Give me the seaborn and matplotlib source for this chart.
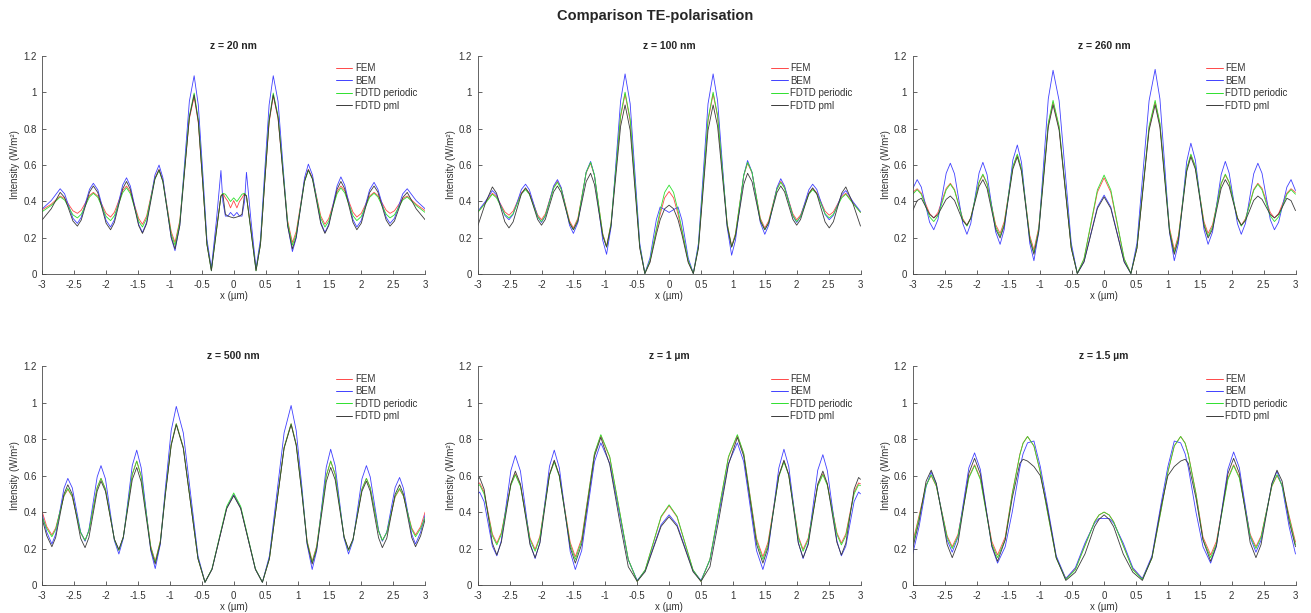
import numpy as np
import pandas as pd
import matplotlib
matplotlib.use("Agg")
import matplotlib.pyplot as plt
import seaborn as sns
from matplotlib.ticker import FuncFormatter, MultipleLocator

# ---------------- data ----------------
methods = ["FEM", "BEM", "FDTD periodic", "FDTD pml"]
colors = ["#ff4848", "#4040ff", "#2ee02e", "#3a3a3a"]
titles = ["z = 20 nm", "z = 100 nm", "z = 260 nm", "z = 500 nm", "z = 1 µm", "z = 1.5 µm"]

# ---- z = 20 nm ----
z20_x = [-3.0, -2.86, -2.72, -2.65, -2.52, -2.45, -2.39, -2.26, -2.2, -2.13, -2.0, -1.93, -1.87, -1.74, -1.68, -1.62, -1.49, -1.43, -1.365, -1.235,
         -1.17, -1.11, -0.98, -0.92, -0.845, -0.77, -0.695, -0.62, -0.555, -0.485, -0.42, -0.35, -0.27, -0.2, -0.17, -0.13, -0.09, -0.05,
         0.0,
         0.05, 0.09, 0.13, 0.17, 0.2, 0.27, 0.35, 0.42, 0.485, 0.555, 0.62, 0.695, 0.77, 0.845, 0.92, 0.98, 1.11, 1.17, 1.235, 1.365,
         1.43, 1.49, 1.62, 1.68, 1.74, 1.87, 1.93, 2.0, 2.13, 2.2, 2.26, 2.39, 2.45, 2.52, 2.65, 2.72, 2.86, 3.0]
z20_fem = [.355, .385, .43, .416, .349, .335, .352, .433, .45, .43, .335, .315, .341, .46, .485, .454, .307, .275, .32, .53,
           .575, .515, .235, .175, .295, .575, .855, .975, .833, .50, .168, .025, .25, .43, .445, .42, .40, .365,
           .405,
           .365, .40, .42, .445, .43, .25, .025, .168, .50, .833, .98, .855, .575, .295, .175, .235, .515, .575, .53, .32,
           .275, .307, .454, .485, .46, .341, .315, .335, .43, .45, .433, .352, .335, .349, .416, .43, .385, .35]
z20_bem = [.36, .405, .47, .442, .308, .28, .313, .467, .50, .464, .296, .26, .30, .49, .53, .485, .275, .23, .286, .545,
           .60, .53, .20, .13, .27, .61, .95, 1.09, .93, .56, .193, .035, .30, .57, .40, .32, .32, .34,
           .32,
           .34, .32, .32, .40, .56, .30, .035, .193, .56, .93, 1.09, .95, .61, .27, .125, .20, .53, .605, .545, .286,
           .23, .275, .485, .535, .49, .30, .26, .296, .464, .505, .467, .313, .28, .308, .442, .47, .405, .36]
z20_per = [.345, .378, .425, .408, .327, .31, .33, .425, .445, .423, .318, .295, .322, .448, .475, .443, .292, .26, .307, .524,
           .57, .509, .221, .16, .285, .578, .87, .995, .849, .508, .166, .02, .24, .43, .445, .44, .42, .40,
           .42,
           .40, .42, .44, .445, .43, .24, .02, .166, .508, .849, .995, .87, .578, .285, .16, .221, .509, .57, .524, .307,
           .26, .292, .443, .475, .448, .322, .295, .318, .423, .445, .425, .33, .31, .327, .408, .425, .378, .34]
z20_pml = [.30, .36, .45, .422, .293, .265, .298, .452, .485, .449, .281, .245, .285, .47, .51, .467, .268, .225, .278, .523,
           .575, .51, .205, .14, .267, .563, .862, .985, .84, .50, .165, .02, .24, .43, .44, .33, .32, .315,
           .31,
           .315, .32, .33, .44, .43, .24, .02, .165, .50, .84, .985, .862, .563, .267, .14, .205, .51, .575, .523, .278,
           .225, .268, .467, .51, .47, .285, .245, .281, .449, .485, .452, .298, .265, .293, .422, .45, .36, .30]

# ---- z = 100 nm ----
z100_x = [-3.0, -2.88, -2.77, -2.705, -2.575, -2.51, -2.445, -2.315, -2.25, -2.19, -2.06, -2.0, -1.94, -1.81, -1.75, -1.69, -1.56, -1.5,
          -1.43, -1.30, -1.23, -1.17, -1.04, -0.98, -0.91, -0.835, -0.76, -0.69, -0.61, -0.535, -0.46, -0.38, -0.3, -0.2, -0.14, -0.07,
          0.0,
          0.07, 0.14, 0.2, 0.3, 0.38, 0.46, 0.535, 0.61, 0.69, 0.76, 0.835, 0.91, 0.98, 1.04, 1.17, 1.23, 1.30, 1.43,
          1.5, 1.56, 1.69, 1.75, 1.81, 1.94, 2.0, 2.06, 2.19, 2.25, 2.315, 2.445, 2.51, 2.575, 2.705, 2.77, 2.88, 3.0]
z100_fem = [.34, .395, .445, .427, .343, .325, .347, .448, .47, .445, .326, .30, .332, .479, .51, .472, .293, .255,
            .308, .557, .61, .542, .223, .155, .28, .573, .865, .99, .842, .498, .153, .005, .07, .24, .33, .42,
            .455,
            .42, .33, .24, .07, .005, .153, .498, .842, .99, .865, .573, .28, .155, .223, .542, .61, .557, .308,
            .255, .293, .472, .51, .479, .332, .30, .326, .445, .47, .448, .347, .325, .343, .427, .445, .395, .34]
z100_bem = [.345, .40, .46, .436, .324, .30, .329, .466, .495, .464, .317, .285, .32, .485, .52, .476, .269, .225,
            .284, .561, .62, .544, .187, .11, .259, .605, .952, 1.10, .936, .553, .171, .005, .09, .30, .37, .355,
            .34,
            .355, .37, .30, .09, .005, .171, .553, .936, 1.10, .952, .605, .259, .105, .187, .544, .625, .561, .284,
            .22, .269, .476, .525, .485, .32, .285, .317, .464, .495, .466, .329, .30, .324, .436, .46, .40, .345]
z100_per = [.34, .39, .44, .42, .33, .31, .333, .442, .465, .439, .316, .29, .322, .473, .505, .466, .284, .245,
            .30, .56, .615, .545, .22, .15, .278, .575, .873, 1.0, .851, .503, .154, .005, .075, .25, .35, .45,
            .49,
            .45, .35, .25, .075, .005, .154, .503, .851, 1.0, .873, .575, .278, .15, .22, .545, .615, .56, .30,
            .245, .284, .466, .505, .473, .322, .29, .316, .439, .465, .442, .333, .31, .33, .42, .44, .39, .34]
z100_pml = [.265, .39, .48, .446, .289, .255, .288, .442, .475, .444, .301, .27, .302, .453, .485, .449, .281, .245,
            .292, .509, .555, .494, .211, .15, .267, .54, .813, .93, .791, .468, .144, .005, .065, .22, .30, .36,
            .38,
            .36, .30, .22, .065, .005, .144, .468, .791, .93, .813, .54, .267, .15, .211, .494, .555, .509, .292,
            .245, .281, .449, .485, .453, .302, .27, .301, .444, .475, .442, .288, .255, .289, .446, .48, .39, .265]

# ---- z = 260 nm ----
z260_x = [-3.0, -2.93, -2.865, -2.735, -2.67, -2.605, -2.475, -2.41, -2.345, -2.215, -2.15, -2.09, -1.96, -1.9, -1.835, -1.70, -1.63,
          -1.565, -1.43, -1.36, -1.295, -1.165, -1.1, -1.025, -0.95, -0.875, -0.8, -0.705, -0.61, -0.515, -0.42, -0.315, -0.21, -0.105,
          0.0,
          0.105, 0.21, 0.315, 0.42, 0.515, 0.61, 0.705, 0.8, 0.875, 0.95, 1.025, 1.1, 1.165, 1.295, 1.36, 1.43, 1.565,
          1.63, 1.70, 1.835, 1.9, 1.96, 2.09, 2.15, 2.215, 2.345, 2.41, 2.475, 2.605, 2.67, 2.735, 2.865, 2.93, 3.0]
z260_fem = [.45, .47, .446, .334, .31, .339, .472, .50, .466, .305, .27, .311, .504, .545, .497, .273, .225,
            .29, .59, .655, .577, .213, .135, .257, .54, .824, .945, .804, .475, .146, .005, .084, .268, .451,
            .53,
            .451, .268, .084, .005, .146, .475, .804, .945, .824, .54, .257, .135, .213, .577, .655, .59, .29,
            .225, .273, .497, .545, .504, .311, .27, .305, .466, .50, .472, .339, .31, .334, .446, .47, .45]
z260_bem = [.47, .52, .479, .286, .245, .30, .555, .61, .552, .279, .22, .279, .556, .615, .548, .233, .165,
            .247, .628, .71, .615, .17, .075, .232, .598, .963, 1.12, .953, .563, .172, .005, .07, .22, .37,
            .435,
            .37, .22, .07, .005, .172, .563, .953, 1.125, .963, .598, .232, .075, .17, .62, .72, .628, .247,
            .165, .233, .548, .62, .556, .279, .22, .279, .552, .61, .555, .30, .245, .286, .479, .52, .46]
z260_per = [.44, .465, .439, .316, .29, .321, .464, .495, .461, .30, .265, .308, .507, .55, .499, .261, .21,
            .278, .593, .66, .579, .201, .12, .245, .538, .83, .955, .813, .48, .147, .005, .086, .275, .464,
            .545,
            .464, .275, .086, .005, .147, .48, .813, .955, .83, .538, .245, .12, .201, .579, .66, .593, .278,
            .21, .261, .499, .55, .507, .308, .265, .30, .461, .495, .464, .321, .29, .316, .439, .465, .44]
z260_pml = [.35, .405, .418, .33, .31, .328, .412, .43, .406, .294, .27, .308, .483, .52, .472, .248, .20,
            .267, .578, .645, .565, .19, .11, .233, .52, .807, .93, .791, .468, .144, .005, .068, .215, .362,
            .425,
            .362, .215, .068, .005, .144, .468, .791, .93, .807, .52, .233, .11, .19, .565, .645, .578, .267,
            .20, .248, .472, .52, .483, .308, .27, .294, .406, .43, .412, .328, .31, .33, .418, .405, .35]

# ---- z = 500 nm ----
z500_x = [-3.0, -2.93, -2.85, -2.79, -2.66, -2.6, -2.53, -2.40, -2.33, -2.27, -2.14, -2.08, -2.01, -1.87, -1.8, -1.73,
          -1.59, -1.52, -1.45, -1.30, -1.23, -1.15, -1.07, -0.98, -0.9, -0.79, -0.675, -0.56, -0.45, -0.34, -0.225, -0.11,
          0.0,
          0.11, 0.225, 0.34, 0.45, 0.56, 0.675, 0.79, 0.9, 0.98, 1.07, 1.15, 1.23, 1.30, 1.45, 1.52, 1.59,
          1.73, 1.8, 1.87, 2.01, 2.08, 2.14, 2.27, 2.33, 2.40, 2.53, 2.6, 2.66, 2.79, 2.85, 2.93, 3.0]
z500_fem = [.40, .32, .275, .313, .488, .525, .483, .287, .245, .296, .534, .585, .526, .249, .19, .264,
            .607, .68, .598, .213, .13, .243, .508, .772, .885, .755, .45, .145, .015, .087, .255, .423,
            .495,
            .423, .255, .087, .015, .145, .45, .755, .885, .772, .508, .243, .13, .213, .598, .68, .607,
            .264, .19, .249, .526, .585, .534, .296, .245, .287, .483, .525, .488, .313, .275, .32, .40]
z500_bem = [.385, .29, .225, .279, .531, .585, .533, .292, .24, .302, .593, .655, .582, .243, .17, .256,
            .655, .74, .643, .188, .09, .224, .535, .847, .98, .835, .498, .16, .015, .087, .255, .423,
            .495,
            .423, .255, .087, .015, .16, .498, .835, .985, .847, .535, .224, .085, .188, .645, .745, .655,
            .256, .17, .243, .582, .655, .593, .302, .24, .292, .535, .59, .531, .279, .225, .29, .385]
z500_per = [.37, .31, .265, .305, .49, .53, .487, .288, .245, .296, .534, .585, .526, .249, .19, .264,
            .607, .68, .597, .208, .125, .239, .505, .771, .885, .755, .45, .145, .015, .089, .26, .431,
            .505,
            .431, .26, .089, .015, .145, .45, .755, .885, .771, .505, .239, .125, .208, .597, .68, .607,
            .264, .19, .249, .526, .585, .534, .296, .245, .288, .487, .53, .49, .305, .265, .31, .37]
z500_pml = [.36, .27, .21, .261, .499, .55, .498, .257, .205, .26, .515, .57, .514, .251, .195, .263,
            .578, .645, .566, .195, .115, .23, .498, .765, .88, .75, .448, .145, .015, .086, .253, .419,
            .49,
            .419, .253, .086, .015, .145, .448, .75, .88, .765, .498, .23, .115, .195, .566, .645, .578,
            .263, .195, .251, .514, .57, .515, .26, .205, .257, .498, .55, .499, .261, .21, .27, .36]

# ---- z = 1 um ----
z1000_x = [-3.0, -2.97, -2.9, -2.77, -2.7, -2.63, -2.48, -2.41, -2.33, -2.18, -2.1, -2.025, -1.875, -1.8,
           -1.72, -1.55, -1.47, -1.37, -1.27, -1.17, -1.07, -0.93, -0.785, -0.64, -0.5, -0.375, -0.25, -0.125,
           0.0,
           0.125, 0.25, 0.375, 0.5, 0.64, 0.785, 0.93, 1.07, 1.17, 1.27, 1.37, 1.47, 1.55, 1.72,
           1.8, 1.875, 2.025, 2.1, 2.18, 2.33, 2.41, 2.48, 2.63, 2.7, 2.77, 2.9, 2.97, 3.0]
z1000_fem = [.555, .56, .51, .28, .23, .287, .553, .61, .548, .257, .195, .268, .607, .68,
             .601, .234, .155, .255, .488, .72, .82, .70, .42, .14, .02, .082, .228, .373,
             .435,
             .373, .228, .082, .02, .14, .42, .70, .82, .72, .488, .255, .155, .234, .601,
             .68, .607, .268, .195, .257, .548, .61, .553, .287, .23, .28, .51, .56, .555]
z1000_bem = [.50, .51, .458, .213, .16, .243, .628, .71, .625, .23, .145, .234, .651, .74,
             .642, .183, .085, .189, .433, .676, .78, .667, .403, .138, .025, .079, .205, .331,
             .385,
             .331, .205, .079, .025, .138, .403, .667, .78, .676, .433, .189, .085, .183, .642,
             .745, .651, .234, .145, .23, .63, .715, .628, .243, .16, .213, .458, .51, .50]
z1000_per = [.545, .55, .50, .27, .22, .278, .547, .605, .542, .248, .185, .259, .602, .675,
             .595, .22, .14, .243, .483, .722, .825, .704, .423, .141, .02, .083, .23, .377,
             .44,
             .377, .23, .083, .02, .141, .423, .704, .825, .722, .483, .243, .14, .22, .595,
             .675, .602, .259, .185, .248, .542, .605, .547, .278, .22, .27, .50, .55, .545]
z1000_pml = [.58, .59, .526, .229, .165, .234, .556, .625, .554, .221, .15, .23, .605, .685,
             .60, .205, .12, .224, .465, .707, .81, .66, .37, .10, .02, .073, .198, .322,
             .375,
             .322, .198, .073, .02, .10, .37, .66, .81, .707, .465, .224, .12, .205, .60,
             .685, .605, .23, .15, .221, .554, .625, .556, .234, .165, .229, .526, .59, .58]

# ---- z = 1.5 um ----
z1500_x = [-3.0, -2.9, -2.79, -2.71, -2.63, -2.46, -2.38, -2.29, -2.12, -2.03, -1.94, -1.76, -1.67, -1.55,
           -1.44, -1.32, -1.27, -1.2, -1.1, -1.0, -0.9, -0.75, -0.6, -0.45, -0.3, -0.15, -0.08,
           0.0,
           0.08, 0.15, 0.3, 0.45, 0.6, 0.75, 0.9, 1.0, 1.1, 1.2, 1.27, 1.32, 1.44,
           1.55, 1.67, 1.76, 1.94, 2.03, 2.12, 2.29, 2.38, 2.46, 2.63, 2.71, 2.79, 2.9, 3.0]
z1500_fem = [.235, .38, .55, .60, .542, .269, .21, .278, .593, .66, .586, .239, .165, .263,
             .503, .718, .779, .815, .763, .62, .425, .149, .035, .088, .218, .347, .384,
             .40,
             .384, .347, .218, .088, .035, .149, .425, .62, .763, .815, .779, .718, .503,
             .263, .165, .239, .586, .66, .593, .278, .21, .269, .542, .60, .55, .38, .235]
z1500_bem = [.17, .32, .54, .62, .554, .246, .18, .262, .643, .725, .634, .211, .12, .21,
             .40, .645, .72, .78, .79, .65, .46, .16, .035, .095, .23, .34, .365,
             .365,
             .365, .34, .23, .095, .035, .16, .46, .65, .79, .78, .72, .645, .40,
             .21, .12, .211, .634, .73, .643, .262, .18, .246, .554, .625, .54, .32, .17]
z1500_per = [.22, .37, .545, .605, .544, .261, .20, .268, .587, .655, .579, .226, .15, .25,
             .50, .715, .778, .815, .763, .62, .423, .147, .03, .084, .215, .346, .384,
             .40,
             .384, .346, .215, .084, .03, .147, .423, .62, .763, .815, .778, .715, .50,
             .25, .15, .226, .579, .655, .587, .268, .20, .261, .544, .605, .545, .37, .22]
z1500_pml = [.20, .35, .57, .63, .558, .222, .15, .232, .613, .695, .61, .215, .13, .247,
             .477, .668, .69, .68, .65, .60, .44, .15, .025, .07, .17, .32, .36,
             .385,
             .36, .32, .17, .07, .025, .15, .44, .60, .65, .68, .69, .668, .477,
             .247, .13, .215, .61, .695, .613, .232, .15, .222, .558, .63, .57, .35, .21]

panels = [
    (z20_x, z20_fem, z20_bem, z20_per, z20_pml),
    (z100_x, z100_fem, z100_bem, z100_per, z100_pml),
    (z260_x, z260_fem, z260_bem, z260_per, z260_pml),
    (z500_x, z500_fem, z500_bem, z500_per, z500_pml),
    (z1000_x, z1000_fem, z1000_bem, z1000_per, z1000_pml),
    (z1500_x, z1500_fem, z1500_bem, z1500_per, z1500_pml),
]

# ---------------- style ----------------
sns.set_theme(style="ticks")
plt.rcParams["font.family"] = ["Liberation Sans", "DejaVu Sans"]
axis_grey = "#4a4a4a"
text_grey = "#333333"

fig = plt.figure(figsize=(13.11, 6.13), dpi=100)
W, H = 1311.0, 613.0
lefts = [42.3, 477.7, 912.7]
tops = [55.7, 366.3]
aw, ah = 382.8, 218.7

fmt = FuncFormatter(lambda v, p: "%g" % round(v, 2))

for i, (x, fem, bem, per, pml) in enumerate(panels):
    n = len(x)
    assert all(len(s) == n for s in (fem, bem, per, pml)), (i, n, [len(s) for s in (fem, bem, per, pml)])
    r, c = divmod(i, 3)
    ax = fig.add_axes([lefts[c] / W, 1 - (tops[r] + ah) / H, aw / W, ah / H])
    df = pd.DataFrame({
        "x": np.tile(np.asarray(x, float), 4),
        "I": np.concatenate([fem, bem, per, pml]).astype(float),
        "Method": np.repeat(methods, n),
    })
    sns.lineplot(data=df, x="x", y="I", hue="Method", hue_order=methods,
                 palette=colors, estimator=None, sort=True, linewidth=0.6,
                 ax=ax, legend=True)
    ax.set_xlim(-3, 3)
    ax.set_ylim(0, 1.2)
    ax.xaxis.set_major_locator(MultipleLocator(0.5))
    ax.yaxis.set_major_locator(MultipleLocator(0.2))
    ax.xaxis.set_major_formatter(fmt)
    ax.yaxis.set_major_formatter(fmt)
    for s in ["top", "right"]:
        ax.spines[s].set_visible(False)
    for s in ["left", "bottom"]:
        ax.spines[s].set_color(axis_grey)
        ax.spines[s].set_linewidth(0.6)
    ax.tick_params(direction="in", length=3, width=0.6, color=axis_grey,
                   labelcolor=text_grey, labelsize=7, pad=4)
    ax.set_xlabel("x (µm)", fontsize=7, color=text_grey, labelpad=1)
    ax.set_ylabel("Intensity (W/m²)", fontsize=7, color=text_grey, labelpad=2)
    ax.set_title(titles[i], fontsize=7.5, fontweight="bold", pad=5)
    h, l = ax.get_legend_handles_labels()
    leg = ax.legend(h, l, loc="upper left", bbox_to_anchor=(0.7675, 0.965),
                    frameon=False, fontsize=7, handlelength=1.65,
                    handletextpad=0.3, labelspacing=0.25, borderpad=0,
                    borderaxespad=0)
    for line in leg.get_lines():
        line.set_linewidth(0.7)
    for t in leg.get_texts():
        t.set_color(text_grey)

fig.suptitle("Comparison TE-polarisation", fontsize=10.5, fontweight="bold",
             y=1 - 16 / H, va="center")
fig.savefig("out.png", dpi=100)
